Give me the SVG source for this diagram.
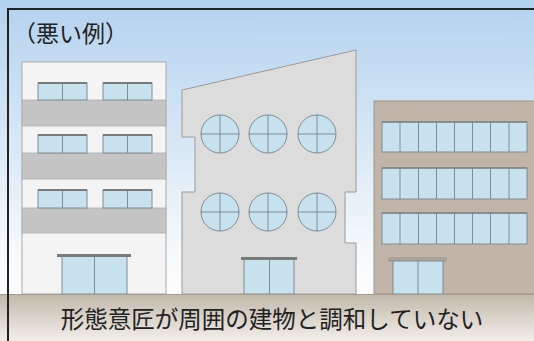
<svg xmlns="http://www.w3.org/2000/svg" width="534" height="341" viewBox="0 0 534 341">
  <defs>
    <linearGradient id="sky" x1="0" y1="0" x2="0" y2="1">
      <stop offset="0" stop-color="#b3d2ef"/>
      <stop offset="0.45" stop-color="#dbe9f6"/>
      <stop offset="0.75" stop-color="#f7fafc"/>
      <stop offset="1" stop-color="#ffffff"/>
    </linearGradient>
    <linearGradient id="ground" x1="0" y1="0" x2="0" y2="1">
      <stop offset="0" stop-color="#c2b8aa"/>
      <stop offset="1" stop-color="#f1eee9"/>
    </linearGradient>
    <style>
      .win { fill: #c7e2ee; stroke: #7f8c92; stroke-width: 1; }
      .mull { stroke: #7f8c92; stroke-width: 1; fill: none; }
      .trim { fill: #7a7a7a; }
      .wall-white { fill: #f4f4f4; stroke: #a8a8a8; stroke-width: 1; }
      .band { fill: #c4c4c4; stroke: #b0b0b0; stroke-width: 0.8; }
      .wall-grey { fill: #dcdcdd; stroke: #9a9a9a; stroke-width: 1; }
      .wall-tan { fill: #c1b5a9; stroke: #9e958c; stroke-width: 1; }
      .label { font-family: "Noto Sans CJK JP", "Noto Sans", sans-serif; fill: #222222; }
    </style>
  </defs>

  <!-- sky and ground -->
  <rect x="0" y="0" width="534" height="341" fill="url(#sky)"/>

  <!-- left building: white with grey balcony bands -->
  <g id="building-left">
    <rect class="wall-white" x="22" y="62" width="144" height="232"/>
    <rect class="band" x="22" y="100" width="144" height="26"/>
    <rect class="band" x="22" y="153" width="144" height="26"/>
    <rect class="band" x="22" y="208" width="144" height="25"/>
    <!-- windows row 1 -->
    <rect class="win" x="38" y="83" width="49" height="17"/>
    <line class="mull" x1="62.5" y1="83" x2="62.5" y2="100"/>
    <rect class="trim" x="38" y="82" width="49" height="2"/>
    <rect class="win" x="103" y="83" width="49" height="17"/>
    <line class="mull" x1="127.5" y1="83" x2="127.5" y2="100"/>
    <rect class="trim" x="103" y="82" width="49" height="2"/>
    <!-- windows row 2 -->
    <rect class="win" x="38" y="135" width="49" height="18"/>
    <line class="mull" x1="62.5" y1="135" x2="62.5" y2="153"/>
    <rect class="trim" x="38" y="134" width="49" height="2"/>
    <rect class="win" x="103" y="135" width="49" height="18"/>
    <line class="mull" x1="127.5" y1="135" x2="127.5" y2="153"/>
    <rect class="trim" x="103" y="134" width="49" height="2"/>
    <!-- windows row 3 -->
    <rect class="win" x="38" y="190" width="49" height="18"/>
    <line class="mull" x1="62.5" y1="190" x2="62.5" y2="208"/>
    <rect class="trim" x="38" y="189" width="49" height="2"/>
    <rect class="win" x="103" y="190" width="49" height="18"/>
    <line class="mull" x1="127.5" y1="190" x2="127.5" y2="208"/>
    <rect class="trim" x="103" y="189" width="49" height="2"/>
    <!-- entrance -->
    <rect class="win" x="62" y="256" width="65" height="38"/>
    <line class="mull" x1="94.5" y1="256" x2="94.5" y2="294"/>
    <rect class="trim" x="57" y="254" width="74" height="3"/>
  </g>

  <!-- middle building: sloped roof, round windows -->
  <g id="building-middle">
    <path class="wall-grey" d="M182 294 L182 192 L195 192 L195 137 L182 137 L182 90 L356 50 L356 192 L345 192 L345 243 L356 243 L356 294 Z"/>
    <g class="win">
      <circle cx="220" cy="134" r="19"/>
      <circle cx="268" cy="134" r="19"/>
      <circle cx="317" cy="134" r="19"/>
      <circle cx="220" cy="212" r="19"/>
      <circle cx="268" cy="212" r="19"/>
      <circle cx="317" cy="212" r="19"/>
    </g>
    <path class="mull" d="M201 134 H239 M220 115 V153 M249 134 H287 M268 115 V153 M298 134 H336 M317 115 V153 M201 212 H239 M220 193 V231 M249 212 H287 M268 193 V231 M298 212 H336 M317 193 V231"/>
    <!-- entrance -->
    <rect class="win" x="244" y="259" width="50" height="35"/>
    <line class="mull" x1="269.5" y1="259" x2="269.5" y2="294"/>
    <rect class="trim" x="241" y="257" width="56" height="3"/>
  </g>

  <!-- right building: tan with ribbon windows -->
  <g id="building-right">
    <rect class="wall-tan" x="374" y="101" width="165" height="193"/>
    <g class="win">
      <rect x="382" y="122" width="145" height="30"/>
      <rect x="382" y="168" width="145" height="31"/>
      <rect x="382" y="213" width="145" height="31"/>
    </g>
    <path class="mull" d="M400 122 V152 M418.5 122 V152 M436.5 122 V152 M454.5 122 V152 M472.5 122 V152 M490.5 122 V152 M509 122 V152 M400 168 V199 M418.5 168 V199 M436.5 168 V199 M454.5 168 V199 M472.5 168 V199 M490.5 168 V199 M509 168 V199 M400 213 V244 M418.5 213 V244 M436.5 213 V244 M454.5 213 V244 M472.5 213 V244 M490.5 213 V244 M509 213 V244"/>
    <rect class="trim" x="382" y="121" width="145" height="2" fill-opacity="0.6"/>
    <rect class="trim" x="382" y="167" width="145" height="2" fill-opacity="0.6"/>
    <rect class="trim" x="382" y="212" width="145" height="2" fill-opacity="0.6"/>
    <!-- entrance -->
    <rect x="389" y="258" width="57" height="3" fill="#b3a89d" stroke="#958c83" stroke-width="0.8"/>
    <rect class="win" x="393" y="261" width="50" height="33"/>
    <line class="mull" x1="418" y1="261" x2="418" y2="294"/>
  </g>

  <!-- ground strip with caption -->
  <g id="caption">
    <rect x="0" y="294" width="534" height="47" fill="url(#ground)"/>
    <line x1="0" y1="294.5" x2="534" y2="294.5" stroke="#a69c90" stroke-width="1"/>
    <text class="label" x="272" y="328" font-size="23.5" text-anchor="middle">形態意匠が周囲の建物と調和していない</text>
  </g>

  <!-- title -->
  <g id="title">
    <text class="label" x="13" y="42" font-size="23">（悪い例）</text>
  </g>

  <!-- frame: top and left edges -->
  <path d="M8 341 V9 H534" fill="none" stroke="#222222" stroke-width="2"/>
</svg>
